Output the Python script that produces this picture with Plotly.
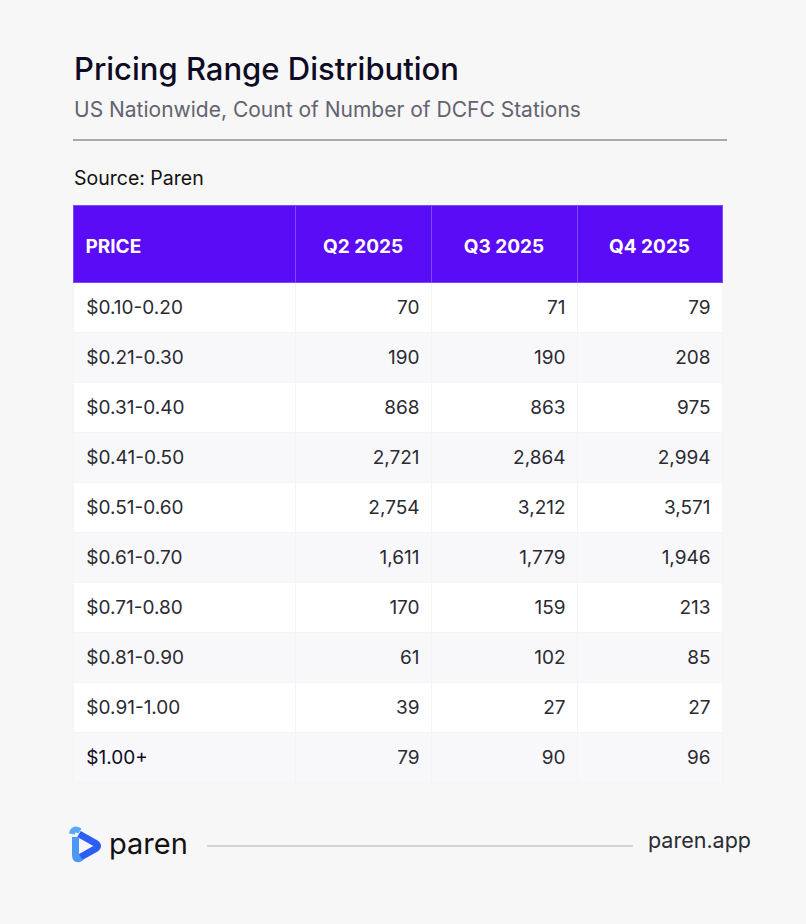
import plotly.graph_objects as go

# table data
price_ranges = ["$0.10-0.20", "$0.21-0.30", "$0.31-0.40", "$0.41-0.50", "$0.51-0.60",
                "$0.61-0.70", "$0.71-0.80", "$0.81-0.90", "$0.91-1.00", "$1.00+"]
q2_2025 = [70, 190, 868, 2721, 2754, 1611, 170, 61, 39, 79]
q3_2025 = [71, 190, 863, 2864, 3212, 1779, 159, 102, 27, 90]
q4_2025 = [79, 208, 975, 2994, 3571, 1946, 213, 85, 27, 96]
headers = ["PRICE", "Q2 2025", "Q3 2025", "Q4 2025"]

W, H = 806, 924
BG = "#F7F7F7"
FONT = "Inter"
TXT = 19
HIDE = "\u00a0<br>"

n = len(price_ranges)
row_fill = ["#FFFFFF" if i % 2 == 0 else "#F8F8FA" for i in range(n)]

# plotly tables put text at the top of a cell, so push it down with a blank small line
def cell(s, size=TXT):
    return f"{HIDE}<span style='font-size:{size}px'>{s}</span>"

def fmt(vals):
    return [cell(f"{v:,}\u2009") for v in vals]

first_col = [cell("\u00a0" + p) for p in price_ranges]
first_col_color = ["#2A2A33"] * (n - 1) + ["#0E0B25"]
head_vals = [cell("\u00a0" + headers[0])] + [cell(h) for h in headers[1:]]

fig = go.Figure()

# dummy trace so the pixel-sized axes exist for annotations and shapes
fig.add_trace(go.Scatter(x=[None], y=[None], hoverinfo="skip", showlegend=False))

fig.add_trace(go.Table(
    domain=dict(x=[73 / W, 722 / W], y=[1 - 790 / H, 1 - 205 / H]),
    columnwidth=[222, 136, 146, 145],
    header=dict(
        values=head_vals,
        fill_color="#5A0CF6",
        line=dict(color="#7C4CF8", width=1),
        align=["left", "center", "center", "center"],
        font=dict(family=FONT, size=17.5, color="white", weight=700),
        height=77,
    ),
    cells=dict(
        values=[first_col, fmt(q2_2025), fmt(q3_2025), fmt(q4_2025)],
        fill_color=[row_fill] * 4,
        line=dict(color="#F4F4F7", width=1),
        align=["left", "right", "right", "right"],
        font=dict(family=FONT, size=10.5,
                  color=[first_col_color, ["#2A2A33"] * n, ["#2A2A33"] * n, ["#2A2A33"] * n]),
        height=50,
    ),
))

# titles and footer text
fig.add_annotation(x=72, y=68, text="Pricing Range Distribution", showarrow=False,
                   xanchor="left", yanchor="middle",
                   font=dict(family=FONT, size=31, color="#0E0B25", weight=500))
fig.add_annotation(x=72, y=109, text="US Nationwide, Count of Number of DCFC Stations",
                   showarrow=False, xanchor="left", yanchor="middle",
                   font=dict(family=FONT, size=21, color="#63636F"))
fig.add_annotation(x=72, y=178, text="Source: Paren", showarrow=False,
                   xanchor="left", yanchor="middle",
                   font=dict(family=FONT, size=19.5, color="#111111"))
fig.add_annotation(x=107, y=843, text="paren", showarrow=False,
                   xanchor="left", yanchor="middle",
                   font=dict(family=FONT, size=29, color="#121212"))
fig.add_annotation(x=753, y=840, text="paren.app", showarrow=False,
                   xanchor="right", yanchor="middle",
                   font=dict(family=FONT, size=21.5, color="#2A2A33"))

# divider lines
fig.add_shape(type="line", x0=73, x1=727, y0=140, y1=140,
              line=dict(color="#8E8E99", width=1.5), layer="below")
fig.add_shape(type="line", x0=207, x1=633, y0=846, y1=846,
              line=dict(color="#C6C9CF", width=1.5), layer="below")

# logo mark: rounded triangle ring, dark on the right, lighter on the left
fig.add_shape(type="path", path="M 79 834 L 95 843 Q 100 846 95 849 L 79 858",
              line=dict(color="#2D5EF3", width=7))
fig.add_shape(type="path", path="M 75.5 837 L 75.5 855 Q 75.5 861 81 857.5",
              line=dict(color="#4C98F6", width=7))
fig.add_shape(type="path", path="M 72 834 Q 73 827 80 831",
              line=dict(color="#5AA8F8", width=6))

fig.update_xaxes(range=[0, W], visible=False, fixedrange=True)
fig.update_yaxes(range=[H, 0], visible=False, fixedrange=True)
fig.update_layout(
    width=W, height=H,
    margin=dict(l=0, r=0, t=0, b=0),
    paper_bgcolor=BG, plot_bgcolor=BG,
    showlegend=False,
)

fig.write_html("out.html", config={"displayModeBar": False},
               post_script="document.body.style.margin='0';")
